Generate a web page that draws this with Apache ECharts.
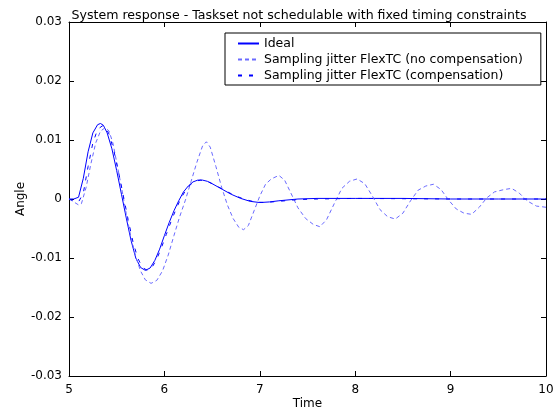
<!DOCTYPE html>
<html>
<head>
<meta charset="utf-8">
<script src="https://cdn.jsdelivr.net/npm/echarts@6/dist/echarts.min.js"></script>
<style>html,body{margin:0;padding:0;background:#fff;}#c{width:558px;height:413px;}</style>
</head>
<body>
<div id="c"></div>
<script>
var titleText = 'System response - Taskset not schedulable with fixed timing constraints';
var seriesNames = ['Ideal', 'Sampling jitter FlexTC (no compensation)', 'Sampling jitter FlexTC (compensation)'];
var xTicks = [5, 6, 7, 8, 9, 10];
var yTicks = [-0.03, -0.02, -0.01, 0, 0.01, 0.02, 0.03];

var tIdeal = [5.00,5.05,5.10,5.15,5.20,5.25,5.30,5.33,5.36,5.40,5.45,5.50,5.55,5.60,5.65,5.70,5.75,5.80,5.85,5.90,5.95,6.00,6.05,6.10,6.15,6.20,6.25,6.30,6.35,6.40,6.45,6.50,6.60,6.70,6.80,6.90,7.00,7.10,7.20,7.40,7.60,8.00,8.50,9.00,9.50,10.00];
var yIdeal = [0,0,0.0003,0.0035,0.0080,0.0112,0.0126,0.0128,0.0125,0.0112,0.0085,0.0048,0.0008,-0.0032,-0.0070,-0.0100,-0.0116,-0.0121,-0.0117,-0.0104,-0.0085,-0.0062,-0.0040,-0.0020,-0.0003,0.0012,0.0022,0.0029,0.0032,0.0032,0.0030,0.0026,0.0017,0.0008,0.0001,-0.0004,-0.0006,-0.0005,-0.0003,0.0000,0.0001,0.0001,0.0001,0.0000,0.0000,0.0000];

var tNoComp = [5.00,5.05,5.10,5.13,5.18,5.23,5.28,5.33,5.38,5.42,5.46,5.50,5.55,5.60,5.65,5.70,5.75,5.80,5.86,5.92,5.98,6.04,6.10,6.16,6.22,6.28,6.34,6.40,6.44,6.48,6.54,6.60,6.66,6.72,6.78,6.83,6.88,6.94,7.00,7.06,7.12,7.20,7.26,7.32,7.40,7.48,7.56,7.63,7.70,7.78,7.86,7.94,8.02,8.10,8.18,8.26,8.34,8.42,8.50,8.58,8.66,8.74,8.82,8.90,8.98,9.06,9.14,9.22,9.30,9.38,9.46,9.56,9.64,9.72,9.80,9.90,10.00];
var yNoComp = [0,-0.0005,-0.0010,-0.0008,0.0020,0.0060,0.0095,0.0115,0.0121,0.0115,0.0095,0.0062,0.0020,-0.0025,-0.0065,-0.0098,-0.0122,-0.0137,-0.0143,-0.0138,-0.0122,-0.0095,-0.0062,-0.0030,-0.0002,0.0030,0.0062,0.0090,0.0097,0.0088,0.0055,0.0020,-0.0010,-0.0033,-0.0048,-0.0052,-0.0045,-0.0020,0.0005,0.0025,0.0034,0.0040,0.0032,0.0012,-0.0015,-0.0033,-0.0043,-0.0047,-0.0035,-0.0008,0.0018,0.0030,0.0034,0.0026,0.0005,-0.0018,-0.0030,-0.0034,-0.0024,-0.0003,0.0015,0.0022,0.0025,0.0016,-0.0002,-0.0017,-0.0024,-0.0026,-0.0014,0.0002,0.0012,0.0016,0.0018,0.0010,-0.0003,-0.0012,-0.0014];

var tComp = [5.00,5.05,5.10,5.15,5.20,5.25,5.30,5.35,5.38,5.42,5.47,5.52,5.57,5.62,5.67,5.72,5.77,5.82,5.87,5.92,5.97,6.02,6.07,6.12,6.17,6.22,6.27,6.32,6.38,6.45,6.55,6.65,6.75,6.85,6.95,7.05,7.20,7.40,7.60,8.00,9.00,10.00];
var yComp = [0,-0.0003,-0.0005,0.0010,0.0055,0.0095,0.0118,0.0124,0.0122,0.0110,0.0082,0.0045,0.0005,-0.0035,-0.0072,-0.0100,-0.0116,-0.0121,-0.0116,-0.0102,-0.0082,-0.0060,-0.0038,-0.0018,0.0000,0.0014,0.0024,0.0030,0.0032,0.0030,0.0022,0.0013,0.0005,-0.0001,-0.0005,-0.0006,-0.0004,-0.0001,0.0000,0.0001,0.0000,0.0000];

function pairs(t, v) { return t.map(function (x, i) { return [x, v[i]]; }); }

var font = 'DejaVu Sans, sans-serif';
var chart = echarts.init(document.getElementById('c'), null, {renderer: 'canvas'});
function axisCommon() {
  return {
    axisLine: {show: true, onZero: false, lineStyle: {color: '#000', width: 1}},
    axisTick: {show: true, inside: true, length: 5, lineStyle: {color: '#000'}},
    splitLine: {show: false}
  };
}
chart.setOption({
  animation: false,
  backgroundColor: '#fff',
  title: {text: titleText, left: 294, textAlign: 'center', top: 4,
    textStyle: {fontFamily: font, fontSize: 12.6, fontWeight: 'normal', color: '#000'}},
  grid: {left: 69, right: 12, top: 22, bottom: 37, containLabel: false, outerBoundsMode: 'none'},
  legend: {
    left: 225, top: 33, orient: 'vertical', itemWidth: 21, itemHeight: 12, itemGap: 3, itemTextGap: 11,
    padding: [4, 18, 3, 12], borderColor: '#000', borderWidth: 1, backgroundColor: '#fff',
    itemStyle: {opacity: 0, borderWidth: 0},
    textStyle: {fontFamily: font, fontSize: 12.5, color: '#000'},
    data: seriesNames.slice()
  },
  xAxis: [
    Object.assign({type: 'value', min: xTicks[0], max: xTicks[xTicks.length - 1], interval: 1, position: 'bottom',
      name: 'Time', nameLocation: 'middle', nameGap: 22, nameMoveOverlap: false,
      nameTextStyle: {fontFamily: font, fontSize: 12, color: '#000'},
      axisLabel: {fontFamily: font, fontSize: 12, color: '#000', margin: 8}}, axisCommon()),
    Object.assign({type: 'value', min: xTicks[0], max: xTicks[xTicks.length - 1], interval: 1, position: 'top',
      axisLabel: {show: false}}, axisCommon())
  ],
  yAxis: [
    Object.assign({type: 'value', min: yTicks[0], max: yTicks[yTicks.length - 1], interval: 0.01, position: 'left',
      name: 'Angle', nameLocation: 'middle', nameGap: 42, nameMoveOverlap: false,
      nameTextStyle: {fontFamily: font, fontSize: 12, color: '#000'},
      axisLabel: {fontFamily: font, fontSize: 12, color: '#000', margin: 7}}, axisCommon()),
    Object.assign({type: 'value', min: yTicks[0], max: yTicks[yTicks.length - 1], interval: 0.01, position: 'right',
      axisLabel: {show: false}}, axisCommon())
  ],
  series: [
    {name: seriesNames[0], type: 'line', xAxisIndex: 0, yAxisIndex: 0, data: pairs(tIdeal, yIdeal), showSymbol: false, symbol: 'none',
      lineStyle: {color: '#0000ff', width: 1}, itemStyle: {color: '#0000ff'}},
    {name: seriesNames[1], type: 'line', xAxisIndex: 0, yAxisIndex: 0, data: pairs(tNoComp, yNoComp), showSymbol: false, symbol: 'none',
      lineStyle: {color: '#6a6aff', width: 1, type: [4, 3]}, itemStyle: {color: '#6a6aff'}},
    {name: seriesNames[2], type: 'line', xAxisIndex: 0, yAxisIndex: 0, data: pairs(tComp, yComp), showSymbol: false, symbol: 'none',
      lineStyle: {color: '#0000ff', width: 1, type: [4, 7]}, itemStyle: {color: '#0000ff'}}
  ]
});
</script>
</body>
</html>
